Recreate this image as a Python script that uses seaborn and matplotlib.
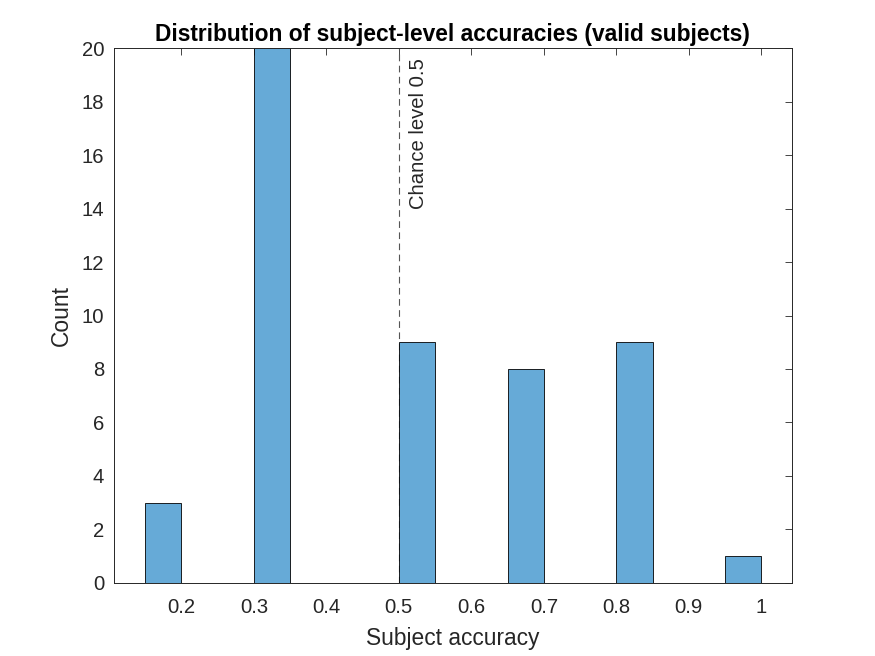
# Histogram of subject-level accuracies, MATLAB look
import numpy as np
import pandas as pd
import seaborn as sns
import matplotlib.pyplot as plt

# subject accuracy levels (k/6) and number of subjects at each level
accuracy_levels = [1/6, 2/6, 3/6, 4/6, 5/6, 6/6]
subject_counts = [3, 20, 9, 8, 9, 1]
x_ticks = [0.2, 0.3, 0.4, 0.5, 0.6, 0.7, 0.8, 0.9, 1.0]
x_tick_labels = ["0.2", "0.3", "0.4", "0.5", "0.6", "0.7", "0.8", "0.9", "1"]
y_ticks = [0, 2, 4, 6, 8, 10, 12, 14, 16, 18, 20]
chance_level = 0.5

df = pd.DataFrame({"accuracy": accuracy_levels, "count": subject_counts})

sns.set_style("white")
plt.rcParams["font.family"] = ["Liberation Sans", "DejaVu Sans"]

fig = plt.figure(figsize=(8.75, 6.56), dpi=100)
ax = fig.add_axes([0.1303, 0.1113, 0.7745, 0.8155])

# bins of width 0.05 from 0.15 to 1.0
edges = [float(e) for e in np.round(np.arange(0.15, 1.0001, 0.05), 2)]

# chance line sits behind the bars
ax.plot([chance_level, chance_level], [0, 20], linestyle=(0, (6, 4)),
        color="#555555", linewidth=0.8, zorder=1)

sns.histplot(data=df, x="accuracy", weights="count", bins=edges,
             color="#66aad7", alpha=1, edgecolor="black", linewidth=0.6,
             ax=ax, zorder=2)

ax.text(0.5135, 19.63, "Chance level 0.5", rotation=90, ha="left", va="top",
        fontsize=14.6, color="#262626")

ax.set_xlim(0.107, 1.042)
ax.set_ylim(0, 20)
ax.set_xticks(x_ticks)
ax.set_xticklabels(x_tick_labels)
ax.set_yticks(y_ticks)

ax.tick_params(direction="in", length=5, width=0.6, top=True, right=True,
               labelsize=14.6, colors="#262626", pad=7)
ax.tick_params(axis="x", pad=11)
for side in ["left", "right", "top", "bottom"]:
    ax.spines[side].set_visible(True)
    ax.spines[side].set_color("#262626")
    ax.spines[side].set_linewidth(0.7)

ax.set_xlabel("Subject accuracy", fontsize=16.4, color="#262626", labelpad=7)
ax.set_ylabel("Count", fontsize=16.4, color="#262626", labelpad=6)
ax.set_title("Distribution of subject-level accuracies (valid subjects)",
             fontsize=16.4, fontweight="bold", color="black", pad=5)

plt.savefig("out.png", dpi=100)
